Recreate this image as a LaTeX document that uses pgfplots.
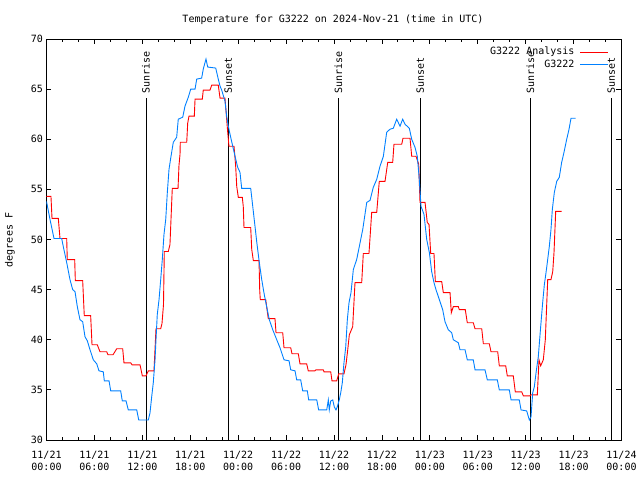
\documentclass[border=0pt]{standalone}
\usepackage{fontspec}
\setmainfont{DejaVu Sans Mono}
\usepackage{pgfplots}
\pgfplotsset{compat=1.18}
\definecolor{obsblue}{RGB}{0,128,255}
\begin{document}
\fontsize{10}{12}\selectfont
\begin{tikzpicture}
\path[use as bounding box] (0,0) rectangle (640pt,480pt);
\node at (333pt,460pt) {Temperature for G3222 on 2024-Nov-21 (time in UTC)};
\node[rotate=90] at (10pt,240pt) {degrees F};
\begin{axis}[
  at={(46.5pt,40pt)}, anchor=south west,
  scale only axis, width=575pt, height=401pt,
  xmin=0, xmax=72, ymin=30, ymax=70,
  xtick={0,6,...,72},
  xticklabels={{11/21\\00:00},{11/21\\06:00},{11/21\\12:00},{11/21\\18:00},{11/22\\00:00},{11/22\\06:00},{11/22\\12:00},{11/22\\18:00},{11/23\\00:00},{11/23\\06:00},{11/23\\12:00},{11/23\\18:00},{11/24\\00:00}},
  minor x tick num=2,
  ytick={30,35,...,70},
  tick align=inside, tick pos=both,
  major tick length=5pt, minor tick length=3pt,
  xticklabel style={align=center, font=\fontsize{10}{12}\selectfont, yshift=-7.5pt},
  yticklabel style={font=\fontsize{10}{12}\selectfont},
  /pgf/number format/assume math mode=true,
  axis line style={line width=0.8pt},
  every tick/.style={black, line width=0.8pt},
  legend style={draw=none, fill=none, at={(rel axis cs:0.983,0.989)}, anchor=north east,
    font=\fontsize{10}{12}\selectfont, row sep=0pt,
    /tikz/every odd column/.append style={column sep=4pt},
    nodes={inner sep=1.2pt, text height=7.5pt, text depth=2.8pt}},
  legend plot pos=right, legend cell align=right,
  legend image code/.code={\draw[#1] (0pt,0pt) -- (28pt,0pt);},
]
% Sunrise / Sunset lines
\addplot[black, line width=0.8pt, forget plot] coordinates {(12.46,30) (12.46,64.1)};
\addplot[black, line width=0.8pt, forget plot] coordinates {(22.77,30) (22.77,64.1)};
\addplot[black, line width=0.8pt, forget plot] coordinates {(36.54,30) (36.54,64.1)};
\addplot[black, line width=0.8pt, forget plot] coordinates {(46.81,30) (46.81,64.1)};
\addplot[black, line width=0.8pt, forget plot] coordinates {(60.59,30) (60.59,64.1)};
\addplot[black, line width=0.8pt, forget plot] coordinates {(70.73,30) (70.73,64.1)};
\node[rotate=90, anchor=west, inner sep=1pt] at (axis cs:12.46,64.4) {Sunrise};
\node[rotate=90, anchor=west, inner sep=1pt] at (axis cs:22.77,64.4) {Sunset};
\node[rotate=90, anchor=west, inner sep=1pt] at (axis cs:36.54,64.4) {Sunrise};
\node[rotate=90, anchor=west, inner sep=1pt] at (axis cs:46.81,64.4) {Sunset};
\node[rotate=90, anchor=west, inner sep=1pt] at (axis cs:60.59,64.4) {Sunrise};
\node[rotate=90, anchor=west, inner sep=1pt] at (axis cs:70.73,64.4) {Sunset};
% Analysis
\addplot[red, line width=0.9pt] coordinates {
(0,54.3) (0.56,54.3) (0.69,52.1) (1.48,52.1) (1.69,50.1) (2.53,50.1) (2.60,48) (3.53,48)
(3.61,45.9) (4.53,45.9) (4.73,42.4) (5.53,42.4) (5.70,39.5) (6.36,39.5) (6.70,38.8) (7.54,38.8)
(7.70,38.5) (8.33,38.5) (8.79,39.1) (9.54,39.1) (9.70,37.7) (10.54,37.7) (10.71,37.5) (11.71,37.5)
(12.00,36.4) (12.46,36.4) (12.75,36.9) (13.46,36.9) (13.71,41.1) (14.30,41.1) (14.46,41.6)
(14.65,43.5) (14.75,48.8) (15.25,48.8) (15.46,49.5) (15.75,55.1) (16.47,55.1) (16.59,57.4)
(16.72,58.5) (16.75,59.7) (17.56,59.7) (17.68,61.6) (17.84,62.3) (18.51,62.3) (18.60,64)
(19.51,64) (19.63,64.9) (20.47,64.9) (20.69,65.4) (21.51,65.4) (21.73,64.1) (22.35,64.1)
(22.69,60.7) (22.85,59.3) (23.48,59.3) (23.69,57.3) (23.82,55.3) (24.02,54.2) (24.52,54.2)
(24.64,53.3) (24.73,51.2) (25.57,51.2) (25.70,49) (25.90,47.9) (26.61,47.9) (26.70,44.9)
(26.77,44) (27.45,44) (27.77,42.1) (28.61,42.1) (28.74,40.7) (29.58,40.7) (29.74,39.2)
(30.58,39.2) (30.74,38.6) (31.53,38.6) (31.74,37.6) (32.58,37.6) (32.78,36.9) (33.62,36.9)
(33.75,37) (34.66,37) (34.75,36.8) (35.59,36.8) (35.75,35.9) (36.34,35.9) (36.59,36.6)
(37.25,36.6) (37.50,37.5) (37.72,39) (37.92,40.5) (38.34,41.3) (38.63,45.7) (39.47,45.7)
(39.67,48.6) (40.38,48.6) (40.72,52.7) (41.35,52.7) (41.67,55.8) (42.39,55.8) (42.73,57.7)
(43.35,57.7) (43.51,59.5) (44.48,59.5) (44.64,60.1) (45.52,60.1) (45.73,58.3) (46.27,58.3)
(46.61,57.5) (46.77,53.7) (47.40,53.7) (47.68,51.7) (47.90,51.5) (48.11,48.6) (48.52,48.6)
(48.69,45.8) (49.49,45.8) (49.69,44.7) (50.53,44.7) (50.69,42.7) (50.94,43.3) (51.57,43.3)
(51.69,43) (52.44,43) (52.69,41.7) (53.44,41.7) (53.66,41.1) (54.50,41.1) (54.70,39.6)
(55.45,39.6) (55.66,38.8) (56.50,38.8) (56.70,37.4) (57.50,37.4) (57.70,36.4) (58.45,36.4)
(58.70,34.8) (59.51,34.8) (59.71,34.4) (60.54,34.4) (60.63,34.5) (61.46,34.5) (61.67,38)
(61.88,37.4) (62.21,38) (62.46,40) (62.76,46) (63.17,46) (63.39,46.8) (63.55,48.7)
(63.76,52.8) (64.51,52.8)
};
\addlegendentry{G3222 Analysis}
% Observations
\addplot[obsblue, line width=0.9pt] coordinates {
(0,53.8) (0.44,52) (0.94,50.1) (1.90,50.1) (2.10,49.3) (2.53,47.7) (2.94,46) (3.28,45)
(3.57,44.8) (3.86,43.3) (4.19,42) (4.53,41.8) (4.82,40.3) (5.11,39.9) (5.45,39) (5.86,38)
(6.29,37.6) (6.57,36.9) (7.11,36.8) (7.24,35.9) (7.83,35.9) (8.04,34.9) (9.29,34.9)
(9.49,33.9) (9.96,33.9) (10.24,33) (11.30,33) (11.55,32) (12.75,32) (12.96,32.7)
(13.17,34.3) (13.37,35.7) (13.59,38) (13.71,40) (13.87,42.5) (14.09,44) (14.30,46)
(14.50,48) (14.71,50.5) (14.93,52) (15.13,54.7) (15.34,57) (15.59,58.3) (15.88,59.7)
(16.30,60.2) (16.50,62) (17.06,62.2) (17.34,63.3) (17.76,64.2) (18.06,65) (18.60,65)
(18.81,66) (19.43,66.1) (19.63,67) (19.97,68) (20.19,67.2) (21.19,67.1) (21.51,66)
(21.73,65.3) (21.94,64.9) (22.35,63.8) (22.56,62.3) (22.77,61.3) (22.98,60.5) (23.32,59.3)
(23.61,58.3) (23.94,57.2) (24.23,56.7) (24.44,55.1) (25.57,55.1) (25.77,53.7) (26.11,51.3)
(26.32,49.8) (26.65,47.7) (26.95,46) (27.27,44.5) (27.57,43.3) (27.90,42) (28.33,41)
(28.83,40) (29.24,39.2) (29.74,38) (30.37,37.9) (30.58,37) (31.12,36.9) (31.33,36)
(31.83,36) (32.08,34.9) (32.66,34.9) (32.83,34) (33.84,34) (34.08,33) (35.09,33)
(35.29,34) (35.41,33) (35.59,33.9) (35.84,34) (36.04,33.3) (36.25,33) (36.41,33.3)
(36.66,34) (36.84,34.7) (37.04,35.7) (37.25,37.7) (37.47,39.3) (37.67,42) (37.88,43.7)
(38.13,44.7) (38.42,47) (38.84,48) (39.17,49.3) (39.60,51) (40.10,53.7) (40.51,53.9)
(40.92,55.2) (41.35,56) (41.76,57.3) (42.18,58.3) (42.60,60.7) (43.01,61) (43.43,61.1)
(43.85,62) (44.27,61.3) (44.60,62) (44.89,61.5) (45.43,61.1) (45.73,60) (46.14,59.2)
(46.43,58.3) (46.65,56.3) (46.90,53.3) (47.27,52.5) (47.61,50) (47.94,48.7) (48.23,46.8)
(48.52,45.7) (48.77,45) (49.19,44) (49.61,43) (49.90,41.8) (50.31,41) (50.74,40.7)
(50.94,40) (51.57,39.7) (51.78,39) (52.41,39) (52.69,38) (53.44,38) (53.66,37) (54.91,37)
(55.20,36) (56.45,36) (56.70,35) (57.95,35) (58.17,34) (59.20,34) (59.42,33) (60.13,32.9)
(60.46,32) (60.67,32.3) (60.88,34.7) (61.08,35.3) (61.30,36.7) (61.58,38.3) (61.88,41.3)
(62.13,43.7) (62.34,45.5) (62.55,46.7) (62.71,47.7) (62.96,49.3) (63.17,51) (63.34,53)
(63.59,54.7) (63.89,55.8) (64.21,56.2) (64.51,57.7) (64.80,58.7) (65.14,60) (65.43,61)
(65.68,62.1) (66.27,62.1)
};
\addlegendentry{G3222}
\end{axis}
\end{tikzpicture}
\end{document}
